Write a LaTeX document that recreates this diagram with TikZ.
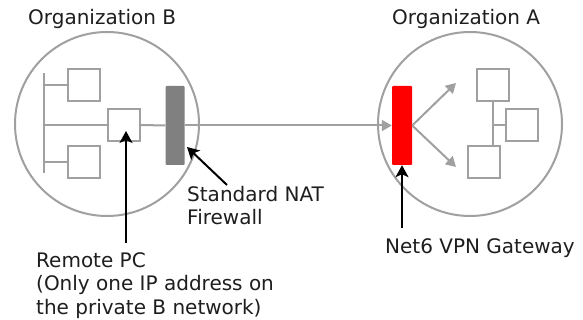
\documentclass[tikz,border=0pt]{standalone}
\usepackage{fontspec}
\setmainfont{DejaVu Sans}
\usetikzlibrary{arrows.meta}
\definecolor{linegray}{RGB}{160,160,160}
\definecolor{fwgray}{RGB}{128,128,128}
\definecolor{textcol}{RGB}{30,30,30}
\begin{document}
\begin{tikzpicture}[x=1pt,y=-1pt,
 gline/.style={draw=linegray, line width=2pt},
 pcbox/.style={rectangle, draw=linegray, line width=2pt, fill=white, minimum width=32pt, minimum height=32pt, inner sep=0pt},
 org/.style={circle, draw=linegray, line width=2pt, minimum size=184pt, inner sep=0pt},
 wall/.style={rectangle, rounded corners=1pt, minimum width=19pt, minimum height=79pt, inner sep=0pt},
 lbl/.style={inner sep=0pt, font=\fontsize{20}{23.5}\selectfont, align=left, text=textcol},
 callout/.style={draw=black, line width=2pt, -{Stealth[length=12pt,width=13pt,inset=3pt]}},
 garrow/.style={gline, -{Triangle[length=10pt,width=11pt]}}
]
\useasboundingbox (0,0) rectangle (583,320);
\fill[white] (0,0) rectangle (583,320);

% organizations
\node[org] (orgB) at (107,124) {};
\node[org] (orgA) at (470,124) {};
\node[lbl, anchor=base west] (titleB) at (28,25) {Organization B};
\node[lbl, anchor=base west] (titleA) at (392,25) {Organization A};

% network B
\coordinate (busTop) at (44,73);
\coordinate (busBot) at (44,173);
\node[pcbox] (pcB1) at (84,85) {};
\node[pcbox] (remote) at (124,125) {};
\node[pcbox] (pcB3) at (84,162) {};
\draw[gline] (busTop) -- (busBot);
\draw[gline] (pcB1.west) -- (pcB1.west -| busTop);
\draw[gline] (pcB3.west) -- (pcB3.west -| busTop);
\draw[gline] (remote.west) -- (remote.west -| busTop);

% firewall and gateway
\node[wall, fill=fwgray] (fw) at (175,125.5) {};
\node[wall, fill=red, minimum width=20pt] (gw) at (402,125.5) {};
\draw[gline] (remote.east) -- (fw.west);
\draw[garrow] (fw.east) -- (gw.west);

% network A
\node[pcbox] (pcA1) at (493,85) {};
\node[pcbox] (pcA2) at (522,125) {};
\node[pcbox] (pcA3) at (483.5,162) {};
\draw[gline] (pcA1.south) -- (pcA1.south |- pcA3.north);
\draw[gline] (pcA2.west) -- (pcA2.west -| pcA1.south);
\coordinate (aUp) at (456,83);
\coordinate (aDn) at (456,167);
\draw[garrow] (gw.east) -- (aUp);
\draw[garrow] (gw.east) -- (aDn);

% callouts
\coordinate (rpcTail) at (126,243);
\coordinate (rpcTip) at (126,131);
\draw[callout] (rpcTail) -- (rpcTip);
\coordinate (fwTail) at (227,185);
\coordinate (fwTip) at (187,147);
\draw[callout] (fwTail) -- (fwTip);
\coordinate (gwTail) at (402,228);
\draw[callout] (gwTail) -- (gw.south);

% labels (base = baseline of the last line)
\node[lbl, anchor=base west] (lblRemote) at (36,314) {Remote PC\\(Only one IP address on\\the private B network)};
\node[lbl, anchor=base west] (lblFw) at (187,225) {Standard NAT\\Firewall};
\node[lbl, anchor=base west] (lblGw) at (385,254) {Net6 VPN Gateway};
\end{tikzpicture}
\end{document}
